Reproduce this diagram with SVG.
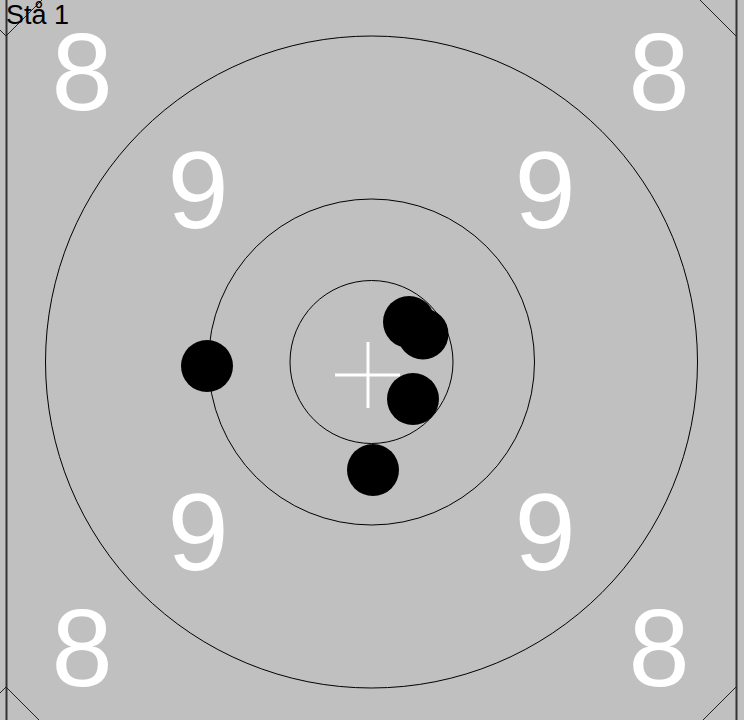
<svg xmlns="http://www.w3.org/2000/svg" width="744" height="720" viewBox="0 0 744 720">
<style>
.ring{fill:none;stroke:#000;stroke-width:1}
.edge{fill:none;stroke:#222;stroke-width:1}
.num{fill:#fff;font-family:"Liberation Sans",Arial,sans-serif;font-size:110px;text-anchor:middle}
.hole{fill:#000}
</style>
<rect x="0" y="0" width="744" height="720" fill="#c0c0c0"/>
<g id="frame">
<line x1="6.5" y1="0" x2="6.5" y2="720" stroke="#333" stroke-width="2"/>
<line x1="736.5" y1="0" x2="736.5" y2="720" stroke="#333" stroke-width="2"/>
<polyline class="edge" points="0,30 6,36 42,0"/>
<polyline class="edge" points="700,0 736,36"/>
<polyline class="edge" points="0,693 6,687 39,720"/>
<polyline class="edge" points="736,687 703,720"/>
</g>
<g id="rings">
<circle class="ring" cx="371.5" cy="362" r="326"/>
<circle class="ring" cx="371.5" cy="362" r="163"/>
<circle class="ring" cx="371.5" cy="362" r="81.5"/>
</g>
<g id="numbers">
<text class="num" x="82" y="110">8</text>
<text class="num" x="659" y="110">8</text>
<text class="num" x="82" y="686">8</text>
<text class="num" x="659" y="686">8</text>
<text class="num" x="198" y="228">9</text>
<text class="num" x="545" y="228">9</text>
<text class="num" x="198" y="570">9</text>
<text class="num" x="545" y="570">9</text>
</g>
<g id="cross" stroke="#fff" stroke-width="3">
<line x1="335" y1="375" x2="400" y2="375"/>
<line x1="368" y1="342" x2="368" y2="408"/>
</g>
<g id="holes">
<circle class="hole" cx="207" cy="366" r="26"/>
<circle class="hole" cx="373" cy="470" r="26"/>
<circle class="hole" cx="409" cy="322" r="26"/>
<circle class="hole" cx="423" cy="334" r="25.5"/>
<circle class="hole" cx="413" cy="399" r="26"/>
</g>
<text id="title" x="6" y="24" font-family="Liberation Sans, Arial, sans-serif" font-size="27" fill="#000">Stå 1</text>
</svg>
